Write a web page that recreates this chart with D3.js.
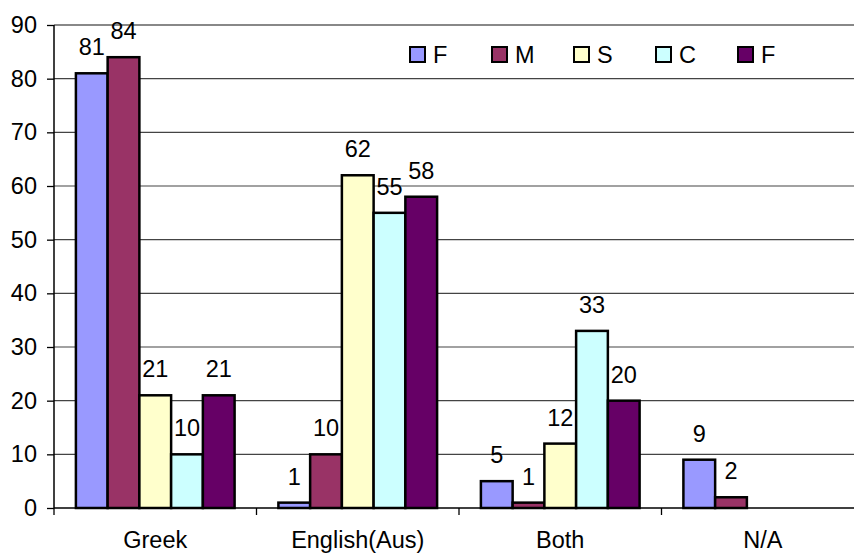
<!DOCTYPE html>
<html>
<head>
<meta charset="utf-8">
<script src="https://cdn.jsdelivr.net/npm/d3@7"></script>
<style>
  body { margin: 0; background: #fff; overflow: hidden; }
  svg { display: block; font-family: Arial, "Liberation Sans", sans-serif; }
</style>
</head>
<body>
<div id="chart"></div>
<script>
const width = 854;
const height = 553;
const margin = { top: 25, right: -10, bottom: 45, left: 54 };

// data
const categories = ["Greek", "English(Aus)", "Both", "N/A"];
const seriesNames = ["F", "M", "S", "C", "F"];
const seriesColors = ["#9999FF", "#993366", "#FFFFCC", "#CCFFFF", "#660066"];
const valuesF1 = [81, 1, 5, 9];
const valuesM = [84, 10, 1, 2];
const valuesS = [21, 62, 12, null];
const valuesC = [10, 55, 33, null];
const valuesF2 = [21, 58, 20, null];
const yTicks = [0, 10, 20, 30, 40, 50, 60, 70, 80, 90];

const series = [valuesF1, valuesM, valuesS, valuesC, valuesF2];
const fontSize = "23.5px";

const svg = d3.select("#chart").append("svg")
    .attr("width", width)
    .attr("height", height);

const x0 = d3.scaleBand()
    .domain(categories)
    .range([margin.left, width - margin.right])
    .paddingInner(0)
    .paddingOuter(0);

const x1 = d3.scaleBand()
    .domain(d3.range(series.length))
    .range([0, x0.bandwidth()])
    .paddingOuter(0.69)
    .paddingInner(0);

const y = d3.scaleLinear()
    .domain([0, 90])
    .range([height - margin.bottom, margin.top]);

// gridlines
svg.append("g")
    .selectAll("line")
    .data(yTicks.filter(d => d > 0))
    .join("line")
    .attr("x1", margin.left)
    .attr("x2", width - margin.right)
    .attr("y1", d => y(d))
    .attr("y2", d => y(d))
    .attr("stroke", d => d === 90 ? "#888" : "#444")
    .attr("stroke-width", d => d === 90 ? 2 : 1.2);

// bars
const groups = svg.append("g")
    .selectAll("g")
    .data(categories)
    .join("g")
    .attr("transform", d => `translate(${x0(d)},0)`);

groups.selectAll("rect")
    .data((c, ci) => series.map((s, si) => ({ si, v: s[ci] })).filter(d => d.v != null))
    .join("rect")
    .attr("x", d => x1(d.si))
    .attr("width", x1.bandwidth())
    .attr("y", d => y(d.v))
    .attr("height", d => y(0) - y(d.v))
    .attr("fill", d => seriesColors[d.si])
    .attr("stroke", "#000")
    .attr("stroke-width", 2.5);

groups.selectAll("text")
    .data((c, ci) => series.map((s, si) => ({ si, v: s[ci] })).filter(d => d.v != null))
    .join("text")
    .attr("x", d => x1(d.si) + x1.bandwidth() / 2)
    .attr("y", d => y(d.v) - 18)
    .attr("text-anchor", "middle")
    .style("font-size", fontSize)
    .text(d => d.v);

// y axis
const yAxis = svg.append("g")
    .attr("transform", `translate(${margin.left},0)`)
    .call(d3.axisLeft(y).tickValues(yTicks).tickSize(7).tickPadding(10));
yAxis.select(".domain").attr("stroke", "#000").attr("stroke-width", 1.5).attr("d", `M0,${y(90)}V${y(0)}`);
yAxis.selectAll(".tick line").attr("stroke", "#000").attr("stroke-width", 1.3);
yAxis.selectAll(".tick text")
    .style("font-size", fontSize)
    .attr("font-family", null)
    .attr("fill", "#000");

// x axis
const xAxisG = svg.append("g")
    .attr("transform", `translate(0,${y(0)})`);
xAxisG.append("line")
    .attr("x1", margin.left)
    .attr("x2", width - margin.right)
    .attr("stroke", "#000")
    .attr("stroke-width", 1.5);
xAxisG.selectAll(".sep")
    .data(categories)
    .join("line")
    .attr("class", "sep")
    .attr("x1", d => x0(d))
    .attr("x2", d => x0(d))
    .attr("y1", 0)
    .attr("y2", 7)
    .attr("stroke", "#000")
    .attr("stroke-width", 1.3);
xAxisG.selectAll(".cat")
    .data(categories)
    .join("text")
    .attr("class", "cat")
    .attr("x", d => x0(d) + x0.bandwidth() / 2)
    .attr("y", 40)
    .attr("text-anchor", "middle")
    .style("font-size", fontSize)
    .text(d => d);

// legend
const legend = svg.append("g")
    .attr("transform", "translate(410,47)");
const items = legend.selectAll("g")
    .data(seriesNames)
    .join("g")
    .attr("transform", (d, i) => `translate(${i * 82},0)`);
items.append("rect")
    .attr("width", 15)
    .attr("height", 15)
    .attr("fill", (d, i) => seriesColors[i])
    .attr("stroke", "#000")
    .attr("stroke-width", 2);
items.append("text")
    .attr("x", 23)
    .attr("y", 16)
    .style("font-size", fontSize)
    .text(d => d);
</script>
</body>
</html>
